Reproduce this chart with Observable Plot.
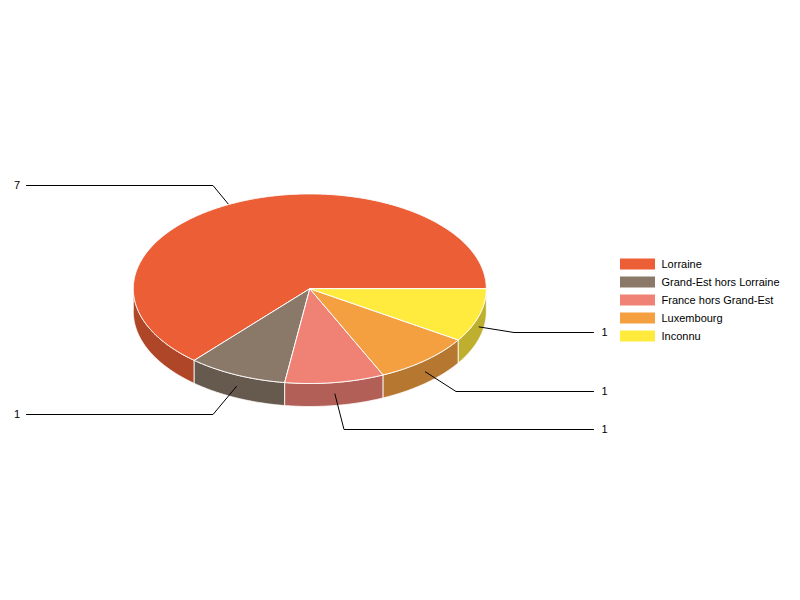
<!DOCTYPE html>
<html>
<head>
<meta charset="utf-8">
<script src="https://cdn.jsdelivr.net/npm/d3@7"></script>
<script src="https://cdn.jsdelivr.net/npm/@observablehq/plot@0.6"></script>
<style>
html,body{margin:0;padding:0;background:#fff;overflow:hidden}
svg{display:block}
</style>
</head>
<body>
<div id="chart"></div>
<script>
const categories = ["Lorraine", "Grand-Est hors Lorraine", "France hors Grand-Est", "Luxembourg", "Inconnu"];
const values = [7, 1, 1, 1, 1];
const topColors = ["#EB5E36", "#8A7869", "#F08275", "#F5A040", "#FFEB3E"];
const sideColors = ["#AF4628", "#66594E", "#B26057", "#B67730", "#BEAF2E"];

// layout of the pie and its call-outs
const cx = 309.3, cy = 288.2, rx = 176.5, ry = 94.8, depth = 23;
const labelY = [185, 414, 429, 391, 332];
const elbowX = [212.5, 212.5, 343.5, 455.5, 513.5];
const lineEndX = [26, 26, 593, 593, 593];
const labelX = [19.5, 19.5, 601, 601, 601];
const legendRowY = [264, 282, 300, 318, 336];

const total = d3.sum(values);
let acc = 0;
const slices = values.map((v, i) => {
  const a0 = acc / total * 360; acc += v;
  return {i, a0, a1: acc / total * 360, mid: (a0 + acc / total * 360) / 2};
});
const px = a => cx + rx * Math.cos(a * Math.PI / 180);
const py = a => cy + ry * Math.sin(-a * Math.PI / 180);
const arcAngles = (a0, a1) => {
  const out = [];
  for (let a = a0; a < a1; a += 0.5) out.push(a);
  out.push(a1);
  return out;
};

const topPts = [], sidePts = [], leaderPts = [];
for (const s of slices) {
  const arc = arcAngles(s.a0, s.a1).map(a => ({x: px(a), y: py(a)}));
  const poly = [{x: cx, y: cy}, ...arc, {x: cx, y: cy}];
  poly.forEach(p => topPts.push({...p, id: s.i, color: topColors[s.i]}));

  const w0 = Math.max(s.a0, 180), w1 = s.a1;
  if (w1 > 180) {
    const front = arcAngles(w0, w1);
    const wall = [
      ...front.map(a => ({x: px(a), y: py(a)})),
      ...front.slice().reverse().map(a => ({x: px(a), y: py(a) + depth}))
    ];
    wall.push(wall[0]);
    wall.forEach(p => sidePts.push({...p, id: s.i, color: sideColors[s.i]}));
  }

  const startY = py(s.mid) + depth / 2;
  [[px(s.mid), startY], [elbowX[s.i], labelY[s.i]], [lineEndX[s.i], labelY[s.i]]]
    .forEach(([x, y]) => leaderPts.push({x, y, id: s.i}));
}

const labels = slices.map(s => ({
  x: labelX[s.i], y: labelY[s.i], text: String(values[s.i]),
  anchor: s.i < 2 ? "end" : "start"
}));
const legend = categories.map((name, i) => ({name, y: legendRowY[i], color: topColors[i]}));
const font = {fontFamily: "Liberation Sans, Arial, sans-serif", fontSize: 11, fill: "#000"};

const chart = Plot.plot({
  width: 800, height: 600, margin: 0,
  x: {domain: [0, 800], range: [0, 800], axis: null},
  y: {domain: [0, 600], range: [0, 600], axis: null},
  style: {background: "#fff"},
  marks: [
    Plot.line(sidePts, {x: "x", y: "y", z: "id", fill: "color", stroke: "#fff", strokeWidth: 1, strokeOpacity: 0.8, curve: "linear"}),
    Plot.line(leaderPts, {x: "x", y: "y", z: "id", stroke: "#000", strokeWidth: 1, curve: "linear"}),
    Plot.line(topPts, {x: "x", y: "y", z: "id", fill: "color", stroke: "#fff", strokeWidth: 1, curve: "linear"}),
    Plot.text(labels.filter(d => d.anchor === "end"), {x: "x", y: "y", text: "text", textAnchor: "end", ...font}),
    Plot.text(labels.filter(d => d.anchor === "start"), {x: "x", y: "y", text: "text", textAnchor: "start", ...font}),
    Plot.rect(legend, {x1: () => 620, x2: () => 655, y1: d => d.y - 5.5, y2: d => d.y + 5.5, fill: "color"}),
    Plot.text(legend, {x: () => 661, y: "y", text: "name", textAnchor: "start", ...font})
  ]
});
document.getElementById("chart").append(chart);
</script>
</body>
</html>
